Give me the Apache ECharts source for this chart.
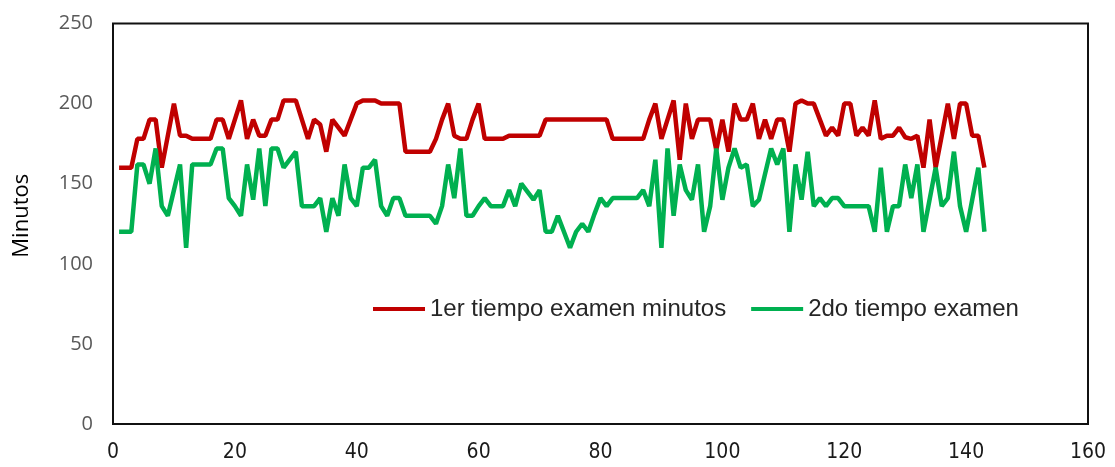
<!DOCTYPE html>
<html>
<head>
<meta charset="utf-8">
<script src="https://cdn.jsdelivr.net/npm/echarts@6/dist/echarts.min.js"></script>
<style>
  html, body { margin: 0; padding: 0; background: #fff; }
  #chart { width: 1115px; height: 467px; }
</style>
</head>
<body>
<div id="chart"></div>
<script>
// ---- data ----
const seriesNames = ['1er tiempo examen minutos', '2do tiempo examen'];
const yTitle = 'Minutos';

const primerTiempo = [
  160,160,160,178,178,190,190,160,180,200,
  180,180,178,178,178,178,190,190,178,190,
  202,178,190,180,180,190,190,202,202,202,
  190,178,190,187,170,190,185,180,190,200,
  202,202,202,200,200,200,200,170,170,170,
  170,170,178,190,200,180,178,178,190,200,
  178,178,178,178,180,180,180,180,180,180,
  190,190,190,190,190,190,190,190,190,190,
  190,178,178,178,178,178,178,190,200,178,
  190,202,165,200,178,190,190,190,171,190,
  170,200,190,190,200,178,190,178,190,190,
  170,200,202,200,200,190,180,185,180,200,
  200,180,185,180,202,178,180,180,185,179,
  178,180,160,190,160,180,200,178,200,200,
  180,180,160
];

const segundoTiempo = [
  120,120,120,162,162,150,172,136,130,146,
  162,110,162,162,162,162,172,172,141,136,
  130,162,140,172,136,172,172,160,165,170,
  136,136,136,141,120,141,130,162,141,136,
  160,160,165,136,130,141,141,130,130,130,
  130,130,125,136,162,141,172,130,130,136,
  141,136,136,136,146,136,150,145,140,146,
  120,120,130,120,110,120,125,120,131,141,
  136,141,141,141,141,141,146,136,165,110,
  172,130,162,146,140,162,120,136,172,140,
  160,172,160,162,136,140,156,172,162,172,
  120,162,140,170,136,141,136,141,141,136,
  136,136,136,136,120,160,120,136,136,162,
  141,162,120,140,160,136,141,170,136,120,
  140,160,120
];

const xMin = 0, xMax = 160, xStep = 20;
const yMin = 0, yMax = 250, yStep = 50;

// pair each value with its sample number (1-based)
const toPairs = arr => arr.map((v, i) => [i + 1, v]);

const chart = echarts.init(document.getElementById('chart'), null, { renderer: 'canvas' });
chart.setOption({
  animation: false,
  backgroundColor: '#ffffff',
  grid: {
    left: 113, right: 27, top: 23.5, bottom: 43,
    show: true, borderColor: '#111111', borderWidth: 2, backgroundColor: 'transparent'
  },
  legend: {
    left: 368, top: 292,
    itemWidth: 52, itemHeight: 4, itemGap: 25,
    icon: 'rect',
    textStyle: { fontFamily: 'Liberation Sans', fontSize: 24, color: '#262626' },
    data: seriesNames
  },
  xAxis: {
    type: 'value', min: xMin, max: xMax, interval: xStep,
    axisLine: { show: false }, axisTick: { show: false }, splitLine: { show: false },
    axisLabel: { margin: 18, fontFamily: 'DejaVu Sans Condensed', fontSize: 21, color: '#1a1a1a' }
  },
  yAxis: {
    type: 'value', min: yMin, max: yMax, interval: yStep,
    name: yTitle, nameLocation: 'middle', nameGap: 80, nameRotate: 90,
    nameTextStyle: { fontFamily: 'Open Sans', fontSize: 22, color: '#000', padding: [0, 0, 0, 16] },
    axisLine: { show: false }, axisTick: { show: false }, splitLine: { show: false },
    axisLabel: { margin: 20, fontFamily: 'Open Sans', fontSize: 20, color: '#595959' }
  },
  series: [
    {
      name: seriesNames[0], type: 'line', data: toPairs(primerTiempo),
      symbol: 'none', lineStyle: { color: '#C00000', width: 4.5 }, itemStyle: { color: '#C00000' }
    },
    {
      name: seriesNames[1], type: 'line', data: toPairs(segundoTiempo),
      symbol: 'none', lineStyle: { color: '#00B050', width: 4.5 }, itemStyle: { color: '#00B050' }
    }
  ]
});
</script>
</body>
</html>
